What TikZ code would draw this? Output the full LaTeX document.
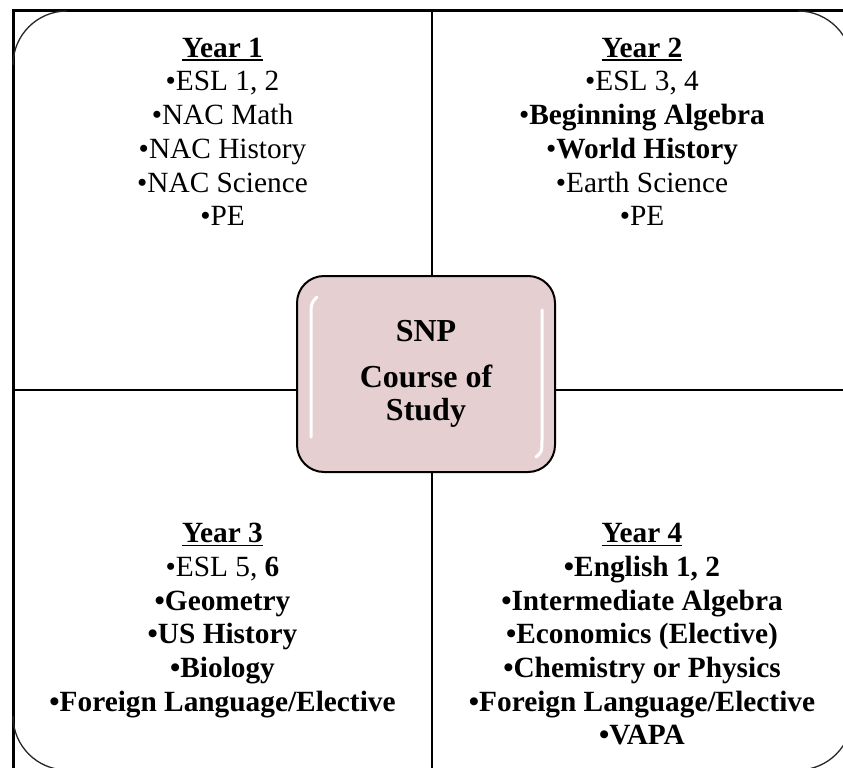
\documentclass[tikz,border=0pt]{standalone}
\usepackage{fontspec}
\setmainfont{Liberation Serif}
\definecolor{boxpink}{RGB}{230,207,209}
% bold, underlined year heading
\newcommand{\yearhead}[1]{\setbox0\hbox{\bfseries #1}\rlap{\rule[-3.6pt]{\wd0}{1.6pt}}\box0}
% fixed height for the first line of each list
\newcommand{\firstline}{\rule{0pt}{25pt}}
\begin{document}
\begin{tikzpicture}[x=1pt,y=-1pt,
  frame/.style={line width=3pt},
  divider/.style={line width=1.6pt},
  cornerarc/.style={line width=1.3pt, black!85},
  qtext/.style={anchor=north, align=center, inner sep=0pt,
    font=\fontsize{29.33}{33.7}\selectfont},
  hub/.style={draw=black, line width=2pt, fill=boxpink, rounded corners=27pt,
    minimum width=258pt, minimum height=196pt, inner sep=0pt, align=center,
    font=\fontsize{32}{33}\selectfont\bfseries},
  gloss/.style={white, line width=3pt, line cap=round},
]
\useasboundingbox (0,0) rectangle (843,768);
\clip (0,0) rectangle (843,768);

% outer frame
\draw[frame] (13,11) rectangle (870,790);

% quadrant dividers
\draw[divider] (432,11) -- (432,790);
\draw[divider] (13,390) -- (870,390);

% rounded outer corners of the four quadrants
\draw[cornerarc] (13,65) arc[start angle=180, end angle=270, radius=54];
\draw[cornerarc] (798,11) arc[start angle=270, end angle=360, radius=54];
\draw[cornerarc] (13,716) arc[start angle=180, end angle=90, radius=54];
\draw[cornerarc] (852,716) arc[start angle=0, end angle=90, radius=54];

% quadrant texts
\node[qtext] (year1) at (222.5,32) {\firstline\yearhead{Year 1}\\
  •ESL 1, 2\\ •NAC Math\\ •NAC History\\ •NAC Science\\ •PE};
\node[qtext] (year2) at (642,32) {\firstline\yearhead{Year 2}\\
  •ESL 3, 4\\ •\textbf{Beginning Algebra}\\ •\textbf{World History}\\
  •Earth Science\\ •PE};
\node[qtext] (year3) at (222.5,517.5) {\firstline\yearhead{Year 3}\\
  •ESL 5, \textbf{6}\\ \textbf{•Geometry}\\ \textbf{•US History}\\
  \textbf{•Biology}\\ \textbf{•Foreign Language/Elective}};
\node[qtext] (year4) at (642,517.5) {\firstline\yearhead{Year 4}\\
  \textbf{•English 1, 2}\\ \textbf{•Intermediate Algebra}\\
  \textbf{•Economics (Elective)}\\ \textbf{•Chemistry or Physics}\\
  \textbf{•Foreign Language/Elective}\\ \textbf{•VAPA}};

% central box
\node[hub] (snp) at (426,374) {SNP\\[13pt] Course of\\ Study};
\draw[gloss] (317,297) .. controls (311,303) .. (311,320) -- (311,437);
\draw[gloss] (542,310) -- (542,438) .. controls (542,452) .. (536,457);
\end{tikzpicture}
\end{document}
